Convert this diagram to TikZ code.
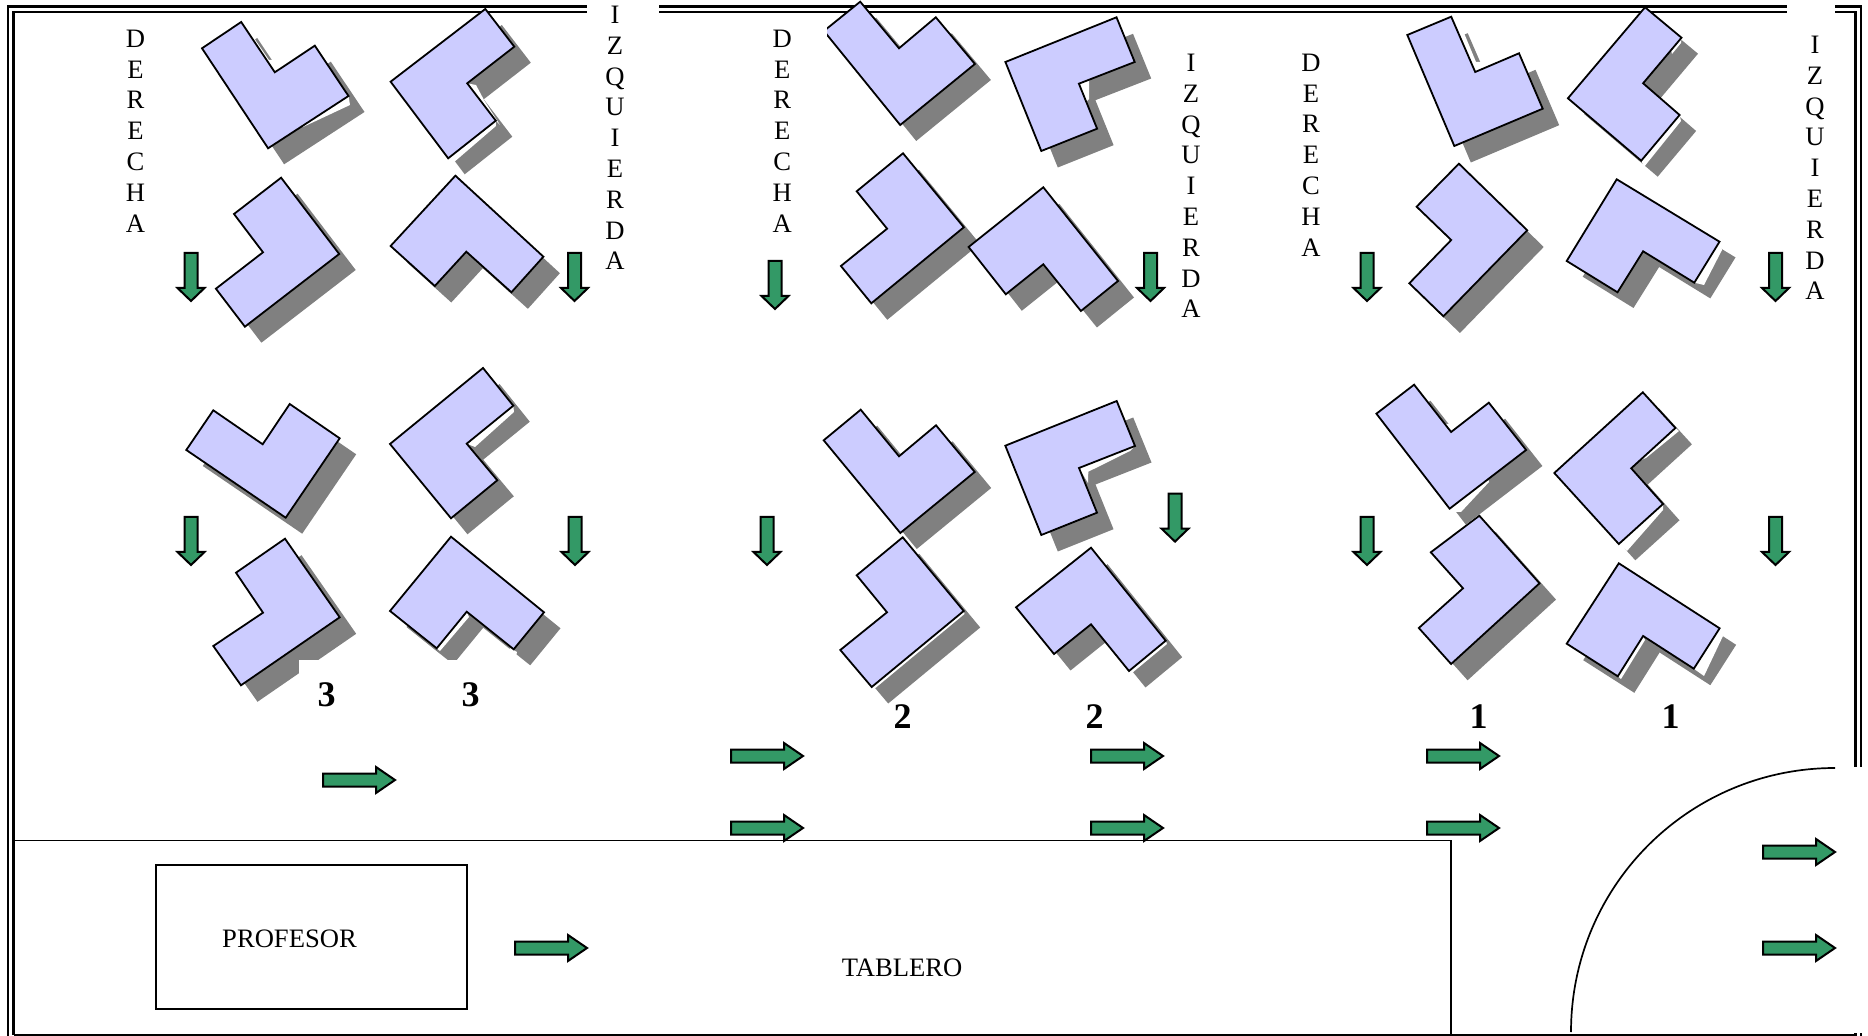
\documentclass[tikz,border=0pt]{standalone}
\usepackage{fontspec}
\setmainfont{Liberation Serif}

\definecolor{colorPieza}{HTML}{CCCCFF}
\definecolor{colorFlecha}{HTML}{339966}
\definecolor{colorSombra}{HTML}{808080}

\tikzset{
   pared/.style={line width=1.3pt},
   linea/.style={line width=0.85pt},
   pieza/.style={draw, fill=colorPieza, line width=0.9pt, line join=miter},
   sombra/.style={fill=colorSombra},
   hueco/.style={fill=white},
   flecha/.style={draw, fill=colorFlecha, line width=1pt},
   letrero/.style={font=\fontsize{13.3}{15.4}\selectfont, align=center, inner sep=0pt},
   texto/.style={font=\fontsize{13.3}{15.4}\selectfont, inner sep=0pt},
   fila/.style={font=\fontsize{18}{20}\selectfont\bfseries, inner sep=0pt}
}

% [huecos] {vertices} {desplazamiento de la sombra}
\newcommand{\pieza}[3][]{
   \fill[sombra, shift={(#3)}] #2 -- cycle;
   #1
   \filldraw[pieza] #2 -- cycle;
}
\newcommand{\flechaAbajo}[2]{
   \filldraw[flecha, shift={(#1,#2)}] (-6.5,-48) -- (6.5,-48) -- (6.5,-13) -- (13.5,-13) -- (0,0) -- (-13.5,-13) -- (-6.5,-13) -- cycle;
}
\newcommand{\flechaDerecha}[2]{
   \filldraw[flecha, shift={(#1,#2)}] (0,-6.5) -- (53,-6.5) -- (53,-13) -- (72,0) -- (53,13) -- (53,6.5) -- (0,6.5) -- cycle;
}

\begin{document}
\begin{tikzpicture}[x=0.5pt, y=-0.5pt]
   \useasboundingbox (0,0) rectangle (1868,1036);

   % Paredes
   \draw[pared] (8,1036) -- (8,6.5) -- (587,6.5);
   \draw[pared] (659,6.5) -- (1786.6,6.5);
   \draw[pared] (1835,6.5) -- (1861,6.5) -- (1861,767);
   \draw[pared] (1861,1033) -- (1861,1036);
   \draw[pared] (13.5,1035) -- (13.5,12) -- (587,12);
   \draw[pared] (659,12) -- (1786.6,12);
   \draw[pared] (1835,12) -- (1855.5,12) -- (1855.5,767);
   \draw[pared] (1855.5,1033) -- (1855.5,1036);
   \draw[pared] (13.5,1035) -- (1855,1035);

   % Tablero y puerta
   \draw[linea] (13,840.5) -- (1451,840.5) -- (1451,1035);
   \draw[linea] (1571,1032) .. controls (1571,886) and (1689,768) .. (1835,768);
   \node[draw, line width=1pt, minimum width=155.7pt, minimum height=72pt, inner sep=0pt, anchor=north west] (profesorBox) at (154.7,863.5) {};
   \node[texto] (profesor) at (289.5,939) {PROFESOR};
   \node[texto] (tablero) at (902,968) {TABLERO};

   % Grupo 3
   \pieza[{\fill[hueco] (241.2,22) -- (254,38) -- (269,60) -- (275,60) -- (291,89) -- (275,72) -- cycle;
           \fill[hueco] (348.5,96) -- (350,105) -- (303,127) -- (300,122) -- cycle;}]{(241.2,22) -- (274.8,72.3) -- (314.8,45.7) -- (348.5,96) -- (268.1,148.3) -- (202,48.3)}{16,16}
   \pieza[{\fill[hueco] (467,83.3) -- (476,85) -- (484,100) -- (500,125) -- (496,121) -- cycle;
           \fill[hueco] (495.8,120.7) -- (496,126) -- (453,163) -- (448.2,158.3) -- cycle;}]{(485.3,9) -- (514.3,46.7) -- (467.2,83.3) -- (495.8,120.7) -- (448.2,158.3) -- (390.6,81.7)}{16.5,16}
   \pieza{(281.1,177.7) -- (339.2,254) -- (244.9,326.7) -- (215.9,288.7) -- (263,252.3) -- (234,214)}{16.5,16}
   \pieza{(455.4,175.7) -- (543.4,256.7) -- (511.4,292.3) -- (466.3,251.7) -- (434.8,286) -- (390.6,246)}{16.5,16.5}
   \pieza{(213.3,410.3) -- (262.7,444.3) -- (289.7,404) -- (339.7,438.3) -- (285.7,517.7) -- (186.3,450)}{16.5,16}
   \pieza[{\fill[hueco] (513.3,405.7) -- (514,412) -- (475,447) -- (466.7,443.7) -- cycle;}]{(483,368) -- (513.3,405.7) -- (466.7,443.7) -- (497.3,480.3) -- (451,518.3) -- (390,444)}{16.5,16}
   \pieza{(285,538.7) -- (339.7,617.3) -- (241,685.3) -- (213.3,646) -- (263,612.7) -- (236,572.7)}{16.5,16.5}
   \pieza[{\fill[hueco] (466.7,611.7) -- (469,617) -- (440,651) -- (436.7,648.3) -- cycle;
           \fill[hueco] (510,648) -- (517,652) -- (515,660) -- (508,653) -- cycle;}]{(451,536.7) -- (544,612.3) -- (513.7,649.3) -- (466.7,611.7) -- (436.7,648.3) -- (390,611)}{16.5,16}
   \fill[white] (299,660) rectangle (515,710);

   % Grupo 2
   \pieza{(860.2,1.7) -- (899,48.3) -- (935.8,17.3) -- (974.9,64) -- (900.2,125) -- (823.9,31)}{16,16}
   \pieza[{\fill[hueco] (1078.9,83.7) -- (1089,80) -- (1089,99) -- (1085,103) -- cycle;}]{(1116.5,17.3) -- (1134.7,62) -- (1078.9,83.7) -- (1097.1,128.7) -- (1041.3,151) -- (1005.4,62)}{16.5,16.5}
   \pieza{(903,153.3) -- (963.8,227.3) -- (871.3,303.3) -- (840.9,266) -- (887.1,228.7) -- (856.7,191.3)}{16,16.5}
   \pieza{(1043.3,187.3) -- (1118,281) -- (1080.9,311) -- (1043.3,264.3) -- (1005.8,294.3) -- (968.6,247)}{16,16.5}
   \pieza{(860.7,409.7) -- (899,456.3) -- (936,425.3) -- (974.7,472) -- (900.3,533) -- (823.7,440.3)}{16.5,16}
   \pieza[{\fill[hueco] (1135,446) -- (1130,451) -- (1088.3,471.7) -- (1088,483) -- (1079,468) -- cycle;}]{(1116.7,401) -- (1135,446) -- (1079,468) -- (1097,512.7) -- (1041.3,535) -- (1005.3,445.7)}{16.5,16.5}
   \pieza[{\fill[hueco] (963.7,611) -- (964.5,614) -- (873,690) -- (871.7,687) -- cycle;}]{(902.7,537.3) -- (963.7,611) -- (871.7,687) -- (840.3,650) -- (887,612.3) -- (856.7,575.3)}{16.5,16.5}
   \pieza[{\fill[hueco] (1165.7,640.7) -- (1167,644) -- (1132,673) -- (1129,671) -- cycle;}]{(1091,547.7) -- (1165.7,640.7) -- (1129,671) -- (1091,624.3) -- (1054,654) -- (1016,607.3)}{16.5,16.5}

   % Grupo 1
   \pieza[{\fill[hueco] (1451,17) -- (1464,33) -- (1476,62) -- (1482,62) -- (1492.5,89) -- (1475,72) -- cycle;}]{(1451.2,16.7) -- (1475.2,72) -- (1519,53.3) -- (1542.7,108.7) -- (1454.3,146) -- (1407.3,35)}{16.5,16.5}
   \pieza[{\fill[hueco] (1679.6,115) -- (1681,121) -- (1644,167) -- (1641.2,160.7) -- cycle;
           \fill[hueco] (1681.5,37.7) -- (1681,43) -- (1672,54) -- (1671,50) -- cycle;}]{(1645,7.3) -- (1681.5,37.7) -- (1643.1,83.3) -- (1679.6,115) -- (1641.2,160.7) -- (1567.9,98.3)}{16.5,16}
   \pieza{(1458.9,163.7) -- (1527.2,230.3) -- (1443.4,316.3) -- (1409.3,283.3) -- (1451.2,240) -- (1416.6,206.7)}{16.5,16.7}
   \pieza[{\fill[hueco] (1719.5,241.7) -- (1722,250) -- (1704,285) -- (1694.3,282.7) -- cycle;}]{(1616.7,179.3) -- (1719.5,241.7) -- (1694.3,282.7) -- (1643.1,251.3) -- (1617.5,292.3) -- (1566.7,261)}{16,15.7}
   \pieza{(1479.3,515.7) -- (1539.5,583.3) -- (1451.1,664) -- (1418.8,628) -- (1463,588.3) -- (1430.8,552.3)}{16.5,16.3}
   \pieza[{\fill[hueco] (1488,479) -- (1489,482) -- (1461,512) -- (1454,512) -- (1449.6,508.7) -- cycle;
           \fill[hueco] (1414.1,384.7) -- (1426,399) -- (1445,424) -- (1450,424) -- (1468,449) -- (1451.1,432) -- cycle;}]{(1414.1,384.7) -- (1451.1,432) -- (1488.8,402.7) -- (1526.1,450) -- (1449.6,508.7) -- (1376.4,413.7)}{16.3,16}
   \pieza[{\fill[hueco] (1663,504) -- (1663,510) -- (1627,551) -- (1618.8,544) -- cycle;
           \fill[hueco] (1675.4,428) -- (1679,431) -- (1646,458) -- (1636,462) -- cycle;}]{(1642.8,392.3) -- (1675.4,428) -- (1631.2,468.3) -- (1663,504) -- (1618.8,544) -- (1554.3,473)}{16.5,16.3}
   \pieza[{\fill[hueco] (1719.6,628.3) -- (1723,636) -- (1704,676) -- (1693.8,668.7) -- cycle;
           \fill[hueco] (1643.1,636) -- (1645,640) -- (1621,679) -- (1617.8,676.3) -- cycle;}]{(1618.8,563.3) -- (1719.6,628.3) -- (1693.8,668.7) -- (1643.1,636) -- (1617.8,676.3) -- (1566.7,643.7)}{16.5,16.5}

   % Letreros
   \fill[white] (107,13.2) rectangle (179,30);
   \fill[white] (755,13.2) rectangle (827,110);
   \node[letrero] (derecha3) at (135.5,131) {D\\E\\R\\E\\C\\H\\A};
   \node[letrero] (izquierda3) at (615,138) {I\\Z\\Q\\U\\I\\E\\R\\D\\A};
   \node[letrero] (derecha2) at (782.3,131) {D\\E\\R\\E\\C\\H\\A};
   \node[letrero] (izquierda2) at (1191,186) {I\\Z\\Q\\U\\I\\E\\R\\D\\A};
   \node[letrero] (derecha1) at (1311,155) {D\\E\\R\\E\\C\\H\\A};
   \node[letrero] (izquierda1) at (1815,168) {I\\Z\\Q\\U\\I\\E\\R\\D\\A};

   \node[fila] (tres1) at (326.7,695) {3};
   \node[fila] (tres2) at (470.7,695) {3};
   \node[fila] (dos1) at (902.7,717) {2};
   \node[fila] (dos2) at (1094.7,717) {2};
   \node[fila] (uno1) at (1478.6,717) {1};
   \node[fila] (uno2) at (1670.7,717) {1};

   % Flechas hacia abajo
   \flechaAbajo{191}{301}
   \flechaAbajo{574.5}{301}
   \flechaAbajo{775}{309}
   \flechaAbajo{1150.5}{301}
   \flechaAbajo{1367}{301}
   \flechaAbajo{1775.5}{301}
   \flechaAbajo{191}{565}
   \flechaAbajo{575}{565}
   \flechaAbajo{767}{565}
   \flechaAbajo{1175}{541.6}
   \flechaAbajo{1367}{565}
   \flechaAbajo{1775.5}{565}

   % Flechas hacia la derecha
   \flechaDerecha{323}{780}
   \flechaDerecha{515}{948}
   \flechaDerecha{731}{756}
   \flechaDerecha{731}{828}
   \flechaDerecha{1091}{756}
   \flechaDerecha{1091}{828}
   \flechaDerecha{1427}{756}
   \flechaDerecha{1427}{828}
   \flechaDerecha{1763}{852}
   \flechaDerecha{1763}{948}
\end{tikzpicture}
\end{document}
